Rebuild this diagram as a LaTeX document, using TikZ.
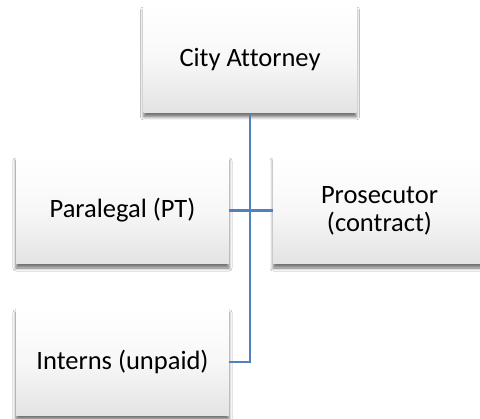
\documentclass[tikz,border=0pt]{standalone}
\usepackage{fontspec}
\setmainfont{Carlito}[Ligatures={NoCommon}]
\usetikzlibrary{shadows.blur}
\definecolor{linkblue}{RGB}{79,129,189}
\tikzset{
  orgbox/.style={
    rectangle, minimum width=213pt, minimum height=107pt,
    inner sep=0pt, align=center,
    top color=white, bottom color=black!11, middle color=white!97!black,
    font=\fontsize{26.5}{28}\selectfont,
    blur shadow={shadow xshift=0pt, shadow yshift=-4pt,
                 shadow blur radius=3pt, shadow opacity=55}
  },
  link/.style={draw=linkblue, line width=2.5pt}
}
\begin{document}
\begin{tikzpicture}[x=1pt,y=1pt]
  \useasboundingbox (0,0) rectangle (480,-419);
  \clip (0,0) rectangle (480,-419);
  \fill[white] (0,0) rectangle (480,-419);

  \node[orgbox] (chief)  at (250,-59.5)   {City Attorney};
  \node[orgbox] (para)   at (122.5,-210.5) {Paralegal (PT)};
  \node[orgbox] (pros)   at (379.5,-210.5) {Prosecutor\\(contract)};
  \node[orgbox] (intern) at (122.5,-362)  {Interns (unpaid)};

  \coordinate (spine) at (chief.south);
  \draw[link] (chief.south) -- (spine |- intern.east) -- (intern.east);
  \draw[link] (para.east) -- (para.east -| spine);
  \draw[link] (pros.west) -- (pros.west -| spine);
\end{tikzpicture}
\end{document}
